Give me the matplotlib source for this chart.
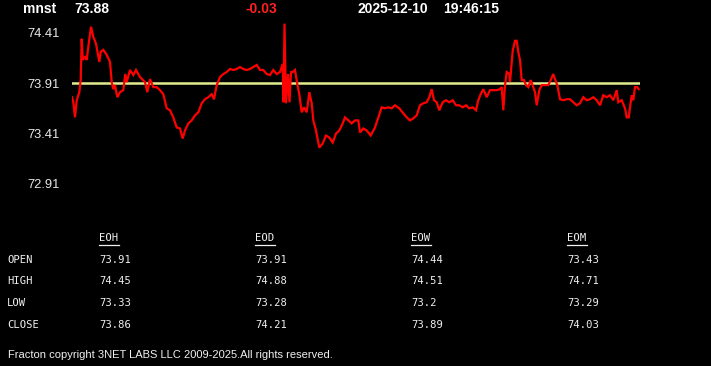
import matplotlib
matplotlib.use("Agg")
import matplotlib.pyplot as plt
from matplotlib.lines import Line2D

# ---- data ----
symbol = "mnst"
last_price = "73.88"
change = "-0.03"
date_str = "2025-12-10"
time_str = "19:46:15"
ref_level = 73.91
y_ticks = [74.41, 73.91, 73.41, 72.91]

# (time index, price) samples
samples = [
    (0, 73.77), (1.3, 73.72), (3, 73.57), (4.7, 73.74), (7.3, 73.82), (8.7, 73.94),
    (9.7, 74.35), (10.7, 74.14), (13, 74.17), (14.7, 74.14), (16.3, 74.27), (19, 74.47),
    (21.3, 74.37), (24, 74.30), (27.3, 74.12), (28.7, 74.22), (31.3, 74.24), (34.7, 74.19),
    (38, 74.12), (39.7, 73.92), (41.3, 73.85), (43, 73.89), (45.3, 73.77), (48, 73.82),
    (51.3, 73.84), (53.3, 74.00), (54.7, 73.92), (58, 74.04), (61.3, 73.99), (64, 74.04),
    (68, 73.97), (73, 73.92), (75.3, 73.82), (78, 73.95), (81.3, 73.87), (84.7, 73.87),
    (88, 73.84), (91.3, 73.80), (94.7, 73.66), (98, 73.64), (101.3, 73.57), (104.7, 73.47),
    (108, 73.46), (110.7, 73.36), (113, 73.44), (116.3, 73.51), (119.7, 73.54), (123, 73.59),
    (126.3, 73.62), (129.7, 73.71), (133, 73.75), (136.3, 73.77), (139.7, 73.80), (142, 73.75),
    (144.7, 73.89), (148, 73.97), (151.3, 74.00), (154.7, 74.02), (158, 74.05), (161.3, 74.04),
    (164.7, 74.05), (168, 74.07), (171.3, 74.05), (174.7, 74.04), (178, 74.05), (181.3, 74.07),
    (184.7, 74.09), (188, 74.04), (191.3, 74.04), (194.7, 74.00), (198, 73.99), (201.3, 74.04),
    (204.7, 74.00), (208, 74.02), (210.7, 74.10), (211.5, 73.72), (212.5, 74.50), (214, 73.71),
    (216, 74.00), (217.5, 73.72), (219, 74.02), (220.7, 74.02), (223, 74.04), (225.3, 73.90),
    (227.3, 73.80), (229.7, 73.62), (232, 73.67), (234.7, 73.62), (237.3, 73.82), (239.7, 73.71),
    (241.3, 73.54), (244, 73.44), (247.3, 73.27), (250.7, 73.31), (254, 73.39), (257.3, 73.37),
    (260.7, 73.32), (264, 73.41), (267.3, 73.44), (270.7, 73.51), (273, 73.57), (276.3, 73.54),
    (279.7, 73.51), (283, 73.54), (286.3, 73.54), (288, 73.42), (291.3, 73.46), (294.7, 73.44),
    (298.7, 73.39), (303, 73.47), (306.3, 73.57), (309.7, 73.67), (313, 73.66), (316.3, 73.67),
    (319.7, 73.66), (323, 73.69), (327.3, 73.66), (331.3, 73.61), (334.7, 73.57), (338, 73.54),
    (341.3, 73.56), (344.7, 73.59), (348, 73.69), (351.3, 73.71), (354.7, 73.72), (357.3, 73.77),
    (359.7, 73.85), (362, 73.74), (364.7, 73.72), (367.3, 73.64), (370.7, 73.72), (374, 73.74),
    (377.3, 73.72), (380.7, 73.74), (384, 73.69), (387.3, 73.69), (390.7, 73.67), (394, 73.69),
    (397.3, 73.66), (400.7, 73.67), (404, 73.64), (406.3, 73.74), (408.7, 73.80), (411.3, 73.85),
    (414.7, 73.77), (418, 73.84), (421.3, 73.84), (424.7, 73.84), (428, 73.85), (429.7, 73.87),
    (431.3, 73.64), (433, 73.89), (434.7, 74.02), (437.3, 74.00), (438, 73.92), (440.7, 74.23),
    (443, 74.33), (444.7, 74.33), (446.3, 74.22), (448, 74.14), (449.7, 73.94), (452, 73.94),
    (454, 73.89), (456.3, 73.87), (458.7, 73.94), (461.3, 73.87), (463, 73.82), (464.7, 73.69),
    (467.3, 73.84), (469.7, 73.89), (473, 73.89), (476.3, 73.89), (478.7, 73.94), (481.3, 74.00),
    (483, 73.95), (485.3, 73.89), (488, 73.75), (491.3, 73.74), (494.7, 73.75), (498, 73.75),
    (501.3, 73.72), (504.7, 73.69), (508, 73.71), (511.3, 73.77), (514.7, 73.74), (518, 73.75),
    (521.3, 73.77), (524.7, 73.74), (528, 73.69), (531.3, 73.79), (534.7, 73.77), (538, 73.79),
    (541.3, 73.74), (544.7, 73.84), (546.3, 73.72), (549.7, 73.74), (553, 73.66), (554.7, 73.57),
    (556.7, 73.57), (558, 73.67), (559.7, 73.79), (561.3, 73.74), (563, 73.87), (565.3, 73.87),
    (566.7, 73.85),
]
t = [s[0] for s in samples]
price = [s[1] for s in samples]

row_labels = ["OPEN", "HIGH", "LOW", "CLOSE"]
col_labels = ["EOH", "EOD", "EOW", "EOM"]
table_vals = [
    ["73.91", "73.91", "74.44", "73.43"],
    ["74.45", "74.88", "74.51", "74.71"],
    ["73.33", "73.28", "73.2", "73.29"],
    ["73.86", "74.21", "73.89", "74.03"],
]
copyright_text = "Fracton copyright 3NET LABS LLC 2009-2025.All rights reserved."

# ---- layout ----
W, H = 711, 366
fig = plt.figure(figsize=(W / 100, H / 100), dpi=100, facecolor="black")

def fx(px):
    return px / W

def fy(py):
    return 1 - py / H

ax_left, ax_right, ax_top, ax_bot = 72, 640, 20, 195
ax = fig.add_axes([fx(ax_left), fy(ax_bot), fx(ax_right - ax_left), (ax_bot - ax_top) / H])
ax.set_facecolor("black")
for s in ax.spines.values():
    s.set_visible(False)

ax.plot(t, price, color="#ff0000", lw=1.6, solid_joinstyle="miter")
ax.axhline(ref_level, color="#e2ec8f", lw=1.8, zorder=0)

ax.set_xlim(0, 568)
ax.set_ylim(72.80, 74.536)
ax.set_xticks([])
ax.set_yticks(y_ticks)
ax.set_yticklabels([f"{v:.2f}" for v in y_ticks])
ax.tick_params(axis="y", length=0, pad=9, colors="#e8e8e8", labelsize=9.3)
for lab in ax.get_yticklabels():
    lab.set_fontfamily("Liberation Sans")

# ---- header ----
hdr = dict(fontfamily="Liberation Sans", fontweight="bold", fontsize=10, va="center", ha="left")
fig.text(fx(23), fy(9), symbol, color="white", **hdr)
fig.text(fx(74), fy(9), last_price, color="white", **hdr)
fig.text(fx(246), fy(9), change, color="#ff2020", **hdr)
fig.text(fx(358), fy(9), date_str, color="white", **hdr)
fig.text(fx(443), fy(9), time_str, color="white", **hdr)

# ---- table ----
mono = dict(fontfamily="DejaVu Sans Mono", fontsize=7.6, color="#f0f0f0", va="center", ha="left")
col_x = [99, 255, 411, 567]
row_y = [260, 281, 302.5, 325]
head_y = 238
for cx, cl in zip(col_x, col_labels):
    fig.text(fx(cx), fy(head_y), cl, **mono)
    fig.add_artist(Line2D([fx(cx), fx(cx + 20)], [fy(244.5), fy(244.5)],
                          color="#f0f0f0", lw=0.9, transform=fig.transFigure))
for ry, rl, vals in zip(row_y, row_labels, table_vals):
    fig.text(fx(7), fy(ry), rl, **mono)
    for cx, v in zip(col_x, vals):
        fig.text(fx(cx), fy(ry), v, **mono)

fig.text(fx(8), fy(355), copyright_text, fontfamily=["Liberation Sans Narrow", "Liberation Sans"],
         fontsize=8, color="#f0f0f0", va="center", ha="left")

fig.savefig("out.png", dpi=100, facecolor="black")
